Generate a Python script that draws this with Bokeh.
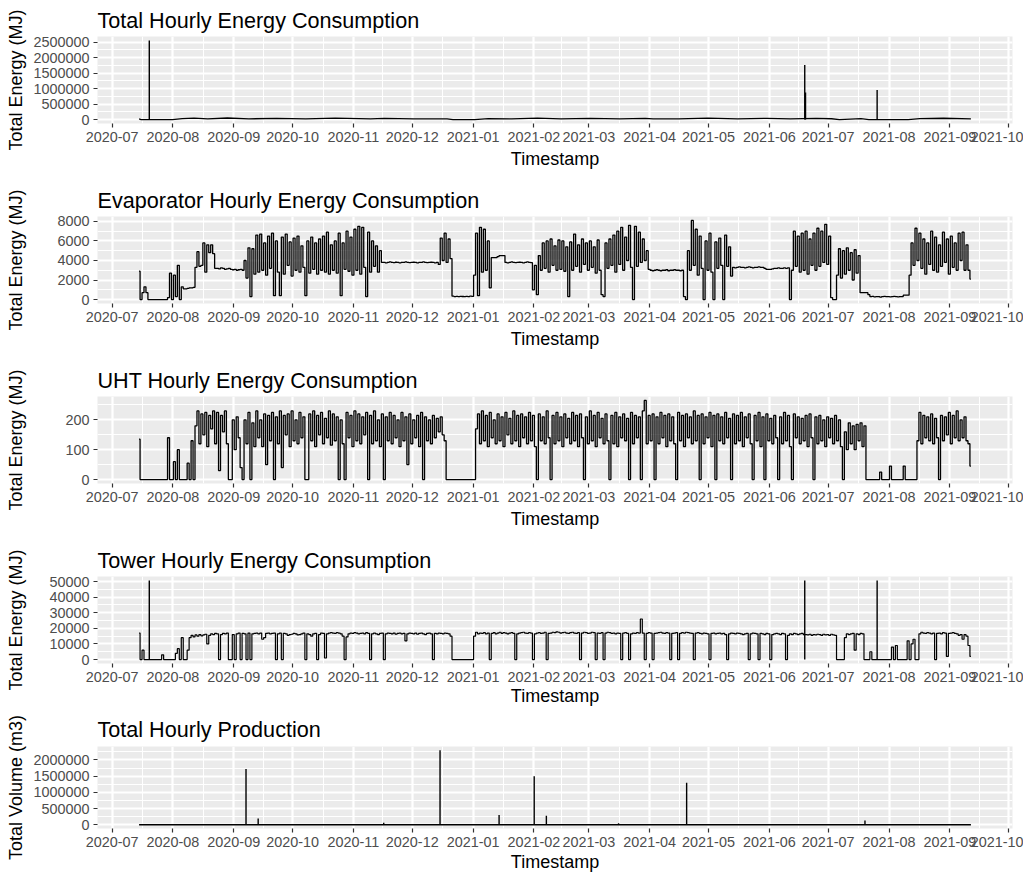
import numpy as np
import pandas as pd
from bokeh.plotting import figure
from bokeh.layouts import column
from bokeh.models import (FixedTicker, DatetimeTickFormatter, NumeralTickFormatter, Range1d)
from bokeh.embed import file_html
from bokeh.resources import INLINE

# ---------------- data ----------------
series_start = "2020-07-14 18:00"   # first hourly record; one value per day below

evap_values = [
    2900, 0, 700, 1300, 700, 0, 0, 0, 0, 0,
    0, 0, 0, 0, 0, 200, 2700, 0, 2500, 300,
    3500, 0, 1300, 1100, 1100, 1150, 1200, 1200, 1250, 3300,
    4900, 3400, 3500, 5800, 2800, 5600, 4800, 5600, 4700, 3200,
    3200, 3150, 3250, 3200, 3100, 3150, 3200, 3100, 3050, 3100,
    3000, 3050, 3100, 3000, 4000, 2200, 5300, 300, 5200, 2600,
    6600, 2800, 6700, 3000, 5800, 2500, 6500, 3200, 6800, 400,
    6000, 2800, 400, 6400, 2600, 6700, 3500, 5900, 2400, 6300,
    3000, 6500, 2800, 5500, 3300, 400, 6000, 2700, 6400, 3100,
    5800, 2600, 6200, 3000, 6500, 2800, 6900, 2600, 5600, 3000,
    6000, 2700, 6800, 400, 5800, 3100, 7000, 2900, 6400, 2500,
    7200, 3000, 7500, 2600, 7400, 3300, 300, 6900, 2800, 6000,
    3400, 5500, 2800, 5000, 3800, 3800, 3750, 3800, 3850, 3800,
    3780, 3820, 3800, 3750, 3800, 3800, 3850, 3800, 3780, 3800,
    3820, 3800, 3750, 3800, 3800, 3850, 3800, 3780, 3800, 3820,
    3800, 3750, 3800, 3600, 6300, 4000, 6800, 3800, 6200, 4200,
    350, 300, 320, 300, 330, 310, 300, 320, 300, 350,
    320, 2500, 6800, 400, 7400, 2800, 7200, 3000, 6000, 1200,
    4300, 4300, 4300, 4400, 4500, 4500, 4500, 3800, 3750, 3800,
    3850, 3800, 3780, 3800, 3820, 3800, 3750, 3800, 3850, 3800,
    3780, 1000, 3500, 500, 4500, 3000, 5800, 3200, 6000, 2800,
    6200, 3500, 5500, 3000, 6100, 3100, 6000, 2900, 5400, 300,
    5900, 3000, 6700, 3400, 5600, 2800, 6200, 3600, 5800, 3000,
    6000, 3300, 5400, 2700, 6100, 3000, 500, 300, 5800, 3200,
    6200, 3500, 6600, 2800, 7000, 3600, 7400, 3000, 6400, 4000,
    7600, 3300, 0, 7500, 3400, 6900, 3800, 6200, 4000, 5000,
    3100, 3000, 2950, 3000, 3050, 3000, 2950, 3000, 3000, 3050,
    2950, 3000, 3000, 3050, 3000, 3000, 2950, 3000, 300, 0,
    5000, 3000, 8100, 3500, 7200, 2500, 6500, 3200, 0, 6000,
    3000, 6800, 2800, 0, 5900, 3200, 6300, 3500, 0, 6600,
    3400, 5400, 2400, 3300, 3250, 3300, 3350, 3300, 3300, 3250,
    3300, 3350, 3300, 3250, 3300, 3300, 3350, 3300, 3300, 3200,
    3100, 3100, 3100, 3150, 3200, 3200, 3250, 3200, 3200, 3250,
    3200, 3250, 0, 3000, 7000, 3400, 6500, 2800, 6800, 3000,
    7000, 2600, 6200, 3500, 6800, 3000, 7300, 3400, 7000, 3800,
    7700, 3600, 6500, 200, 0, 0, 2500, 5200, 2200, 5000,
    2600, 5300, 3000, 4800, 2000, 5100, 2700, 4500, 700, 700,
    700, 700, 500, 300, 320, 280, 300, 300, 250, 300,
    320, 300, 300, 280, 300, 320, 300, 280, 300, 300,
    450, 450, 450, 2500, 5800, 3500, 7300, 4000, 6800, 3200,
    6200, 2600, 5800, 3600, 7000, 3000, 6400, 2800, 5600, 3400,
    6900, 3800, 6200, 2600, 6500, 3300, 5800, 3000, 6800, 4000,
    6900, 3000, 5600, 3000, 2100,
]

uht_values = [
    135, 0, 0, 0, 0, 0, 0, 0, 0, 0,
    0, 0, 0, 0, 0, 140, 0, 0, 60, 0,
    100, 0, 0, 0, 0, 55, 0, 130, 0, 180,
    230, 120, 220, 150, 225, 110, 215, 170, 230, 120,
    225, 30, 215, 160, 230, 120, 0, 0, 200, 100,
    210, 140, 40, 0, 200, 120, 225, 0, 190, 110,
    230, 140, 200, 110, 220, 50, 215, 130, 225, 0,
    210, 120, 230, 40, 215, 150, 220, 110, 230, 130,
    200, 120, 225, 140, 210, 0, 0, 220, 130, 230,
    110, 215, 150, 225, 120, 205, 140, 230, 115, 220,
    130, 210, 0, 200, 120, 0, 225, 140, 215, 110,
    230, 130, 220, 120, 210, 150, 225, 0, 215, 120,
    230, 130, 200, 110, 220, 0, 210, 130, 225, 120,
    215, 140, 200, 110, 225, 130, 210, 50, 220, 120,
    200, 140, 215, 110, 225, 0, 210, 130, 200, 120,
    215, 140, 205, 160, 210, 150, 130, 0, 0, 0,
    0, 0, 0, 0, 0, 0, 0, 0, 0, 0,
    0, 0, 170, 220, 120, 230, 130, 215, 110, 225,
    140, 200, 120, 220, 130, 210, 110, 225, 150, 205,
    120, 230, 130, 215, 110, 220, 140, 210, 120, 225,
    130, 215, 110, 0, 220, 130, 210, 120, 230, 140,
    0, 215, 120, 225, 130, 210, 110, 220, 140, 205,
    120, 225, 130, 215, 110, 220, 140, 0, 210, 120,
    230, 130, 215, 110, 225, 140, 205, 120, 220, 130,
    0, 215, 120, 225, 110, 210, 140, 220, 130, 205,
    0, 225, 120, 215, 140, 210, 0, 230, 265, 120,
    215, 130, 220, 0, 210, 120, 225, 140, 215, 110,
    220, 130, 210, 120, 0, 225, 130, 215, 110, 220,
    140, 210, 120, 230, 130, 215, 0, 220, 120, 210,
    140, 225, 110, 215, 0, 220, 130, 210, 120, 225,
    140, 205, 0, 220, 120, 215, 130, 225, 110, 210,
    140, 220, 120, 0, 215, 130, 225, 110, 210, 0,
    220, 130, 205, 120, 215, 140, 0, 210, 120, 225,
    130, 215, 110, 0, 220, 140, 210, 120, 205, 130,
    215, 110, 220, 140, 0, 210, 120, 215, 130, 200,
    110, 210, 140, 205, 120, 215, 130, 200, 110, 0,
    160, 100, 190, 120, 180, 100, 185, 130, 190, 110,
    180, 0, 0, 0, 0, 0, 0, 0, 25, 0,
    0, 0, 0, 45, 0, 0, 0, 0, 0, 0,
    45, 0, 0, 0, 0, 0, 0, 130, 225, 120,
    215, 140, 210, 130, 220, 120, 205, 140, 0, 215,
    130, 210, 150, 225, 120, 215, 140, 230, 130, 200,
    140, 210, 130, 120, 45,
]

tower_values = [
    17000, 0, 6000, 0, 0, 0, 0, 0, 0, 0,
    0, 0, 3000, 0, 0, 0, 0, 0, 0, 4000,
    7000, 0, 14000, 0, 0, 6000, 14000, 15500, 14500, 15800,
    15000, 16000, 15200, 15800, 16200, 10000, 15500, 16500, 16000, 16800,
    16500, 0, 16000, 16800, 16500, 17000, 0, 0, 16000, 0,
    16500, 17000, 0, 16800, 16500, 0, 17000, 0, 16500, 16800,
    17000, 16500, 17000, 13000, 14000, 16800, 17000, 16500, 16800, 17000,
    0, 16500, 17000, 0, 16800, 16500, 15500, 16000, 16200, 16800,
    16500, 15800, 16000, 16500, 17000, 0, 16500, 16000, 15000, 16500,
    16800, 0, 16000, 17000, 16800, 1000, 16500, 17000, 17200, 17000,
    16800, 17200, 17000, 16500, 15000, 0, 14500, 16500, 17000, 16800,
    17200, 17000, 16500, 16800, 17000, 16500, 17200, 16800, 0, 16500,
    17000, 16500, 16000, 16800, 17000, 0, 16500, 17000, 16800, 16500,
    17000, 16200, 16800, 17000, 16500, 16800, 12000, 16500, 17000, 16800,
    16500, 17000, 16200, 16800, 17000, 16500, 16000, 16800, 17000, 16500,
    0, 16800, 16500, 17000, 16800, 16500, 17000, 16800, 16500, 15000,
    0, 0, 0, 0, 0, 0, 0, 0, 0, 0,
    0, 15000, 17500, 16500, 17000, 16800, 17200, 16500, 17000, 0,
    16800, 17200, 16500, 17000, 17500, 16800, 17200, 17000, 16500, 17000,
    17200, 16800, 0, 16500, 17000, 17200, 17500, 17000, 16800, 17200,
    17000, 0, 16500, 17000, 17200, 16800, 17000, 17500, 0, 16800,
    17000, 17500, 17200, 17800, 17500, 17000, 17200, 17500, 17000, 16800,
    17200, 17500, 17000, 16800, 17200, 0, 17000, 17500, 17200, 16800,
    17000, 17500, 17200, 0, 17000, 16800, 17200, 0, 17000, 17500,
    17200, 16800, 17000, 16500, 17000, 16800, 0, 17000, 17200, 16800,
    0, 16500, 17000, 16800, 17200, 17000, 26000, 17000, 0, 16800,
    17200, 17000, 0, 16800, 17000, 17200, 17500, 17000, 16800, 17200,
    17000, 0, 16800, 17000, 17200, 0, 16800, 17200, 17000, 17500,
    17200, 17000, 16800, 0, 17000, 17200, 16800, 16500, 17000, 16800,
    16500, 0, 16800, 17000, 16500, 16800, 17000, 16500, 16800, 16000,
    0, 16500, 17000, 16800, 16500, 17000, 16800, 16500, 16000, 16500,
    16800, 0, 16500, 17000, 16800, 16500, 0, 16800, 16500, 16000,
    16800, 16500, 0, 16000, 16500, 16800, 16500, 16000, 16800, 16500,
    0, 15500, 16500, 16000, 16800, 16500, 16000, 16500, 16800, 16000,
    16000, 15800, 16200, 15500, 16000, 15800, 16200, 16000, 15500, 16200,
    15800, 16000, 15500, 16200, 15800, 15500, 0, 0, 0, 0,
    14000, 16500, 16000, 16500, 16800, 6000, 16500, 16000, 16800, 16500,
    0, 0, 0, 5000, 0, 0, 0, 0, 0, 0,
    0, 0, 0, 0, 8000, 0, 9000, 0, 0, 0,
    0, 0, 12000, 0, 10000, 13000, 0, 0, 16500, 17500,
    17000, 16800, 17200, 17000, 16500, 17000, 0, 16800, 17000, 16500,
    17200, 17000, 2000, 16800, 17000, 17200, 16800, 16500, 15500, 16000,
    13000, 16000, 15000, 9000, 2000,
]
tower_peak_days = [5.2, 339.3, 376.2]
tower_peak_values = [50700, 50700, 50700]

total_days = [0, 1, 17, 22, 28, 35, 45, 56, 70, 85,
              100, 118, 125, 140, 152, 157, 160, 171, 178, 190,
              203, 215, 230, 245, 258, 262, 275, 290, 305, 320,
              332, 345, 353, 357, 368, 372, 392, 398, 410, 424]
total_values = [25000, 1000, 1000, 30000, 45000, 25000, 50000, 22000, 40000, 25000,
                45000, 22000, 38000, 24000, 22000, 21000, 400, 400, 30000, 24000,
                45000, 25000, 40000, 24000, 35000, 22000, 20000, 45000, 25000, 38000,
                24000, 40000, 26000, 400, 30000, 600, 600, 30000, 42000, 20000]
total_peak_days = [5.2, 339.3, 339.7, 376.2]
total_peak_values = [2550000, 1760000, 870000, 950000]

prod_days = [0, 424]
prod_values = [0, 0]
prod_peak_days = [54.5, 60.7, 124.7, 153.4, 183.5, 201.4, 207.6, 244.4, 279.1, 370.0]
prod_peak_values = [1720000, 190000, 60000, 2300000, 300000, 1500000, 280000, 50000, 1300000, 130000]

month_ticks = ["2020-07-01", "2020-08-01", "2020-09-01", "2020-10-01", "2020-11-01",
               "2020-12-01", "2021-01-01", "2021-02-01", "2021-03-01", "2021-04-01",
               "2021-05-01", "2021-06-01", "2021-07-01", "2021-08-01", "2021-09-01",
               "2021-10-01"]

total_yticks = [0, 500000, 1000000, 1500000, 2000000, 2500000]
evap_yticks = [0, 2000, 4000, 6000, 8000]
uht_yticks = [0, 100, 200]
tower_yticks = [0, 10000, 20000, 30000, 40000, 50000]
prod_yticks = [0, 500000, 1000000, 1500000, 2000000]

# ---------------- helpers ----------------
FONT = "Liberation Sans"
DAY_MS = 86400000.0
start_ms = pd.Timestamp(series_start).value / 1e6


def to_ms(days):
    return start_ms + np.asarray(days, dtype=float) * DAY_MS


daily = np.arange(len(evap_values))
x_lo, x_hi = start_ms, start_ms + 424 * DAY_MS
x_pad = 0.05 * (x_hi - x_lo)
XR = (x_lo - x_pad, x_hi + x_pad)

major_ms = [pd.Timestamp(t).value / 1e6 for t in month_ticks]
minor_ms = [(a + b) / 2 for a, b in zip(major_ms[:-1], major_ms[1:])]

fmt = "%Y-%m"
dt_fmt = DatetimeTickFormatter(microseconds=fmt, milliseconds=fmt, seconds=fmt, minsec=fmt,
                               minutes=fmt, hourmin=fmt, hours=fmt, days=fmt, months=fmt,
                               years=fmt)


def make_panel(title, ylabel, yticks, ydata, height, top, bottom, title_standoff=8,
               xlabel_standoff=4):
    lo, hi = min(ydata), max(ydata)
    pad = 0.05 * (hi - lo)
    y0, y1 = lo - pad, hi + pad
    p = figure(width=1023, height=height, x_axis_type="datetime",
               x_range=Range1d(*XR), y_range=Range1d(y0, y1),
               output_backend="svg", toolbar_location=None,
               min_border_left=97, min_border_right=11,
               min_border_top=top, min_border_bottom=bottom)
    p.outline_line_color = None
    p.background_fill_color = "#EBEBEB"
    p.border_fill_color = "white"

    p.title.text = title
    p.title.text_font = FONT
    p.title.text_font_size = "21.6px"
    p.title.text_font_style = "normal"
    p.title.text_color = "black"
    p.title.align = "left"
    p.title.standoff = title_standoff

    xt = FixedTicker(ticks=major_ms, minor_ticks=minor_ms)
    step = yticks[1] - yticks[0]
    ymin = [t + step / 2 for t in [yticks[0] - step] + yticks]
    ymin = [t for t in ymin if y0 <= t <= y1]
    yt = FixedTicker(ticks=yticks, minor_ticks=ymin)

    p.xaxis.ticker = xt
    p.xgrid.ticker = xt
    p.xaxis.formatter = dt_fmt
    p.yaxis.ticker = yt
    p.ygrid.ticker = yt
    p.yaxis.formatter = NumeralTickFormatter(format="0")

    for g in (p.xgrid, p.ygrid):
        g.grid_line_color = "white"
        g.grid_line_width = 2.2
        g.minor_grid_line_color = "white"
        g.minor_grid_line_width = 1.1

    for ax in (p.xaxis, p.yaxis):
        ax.axis_line_color = None
        ax.major_tick_line_color = "#333333"
        ax.major_tick_line_width = 1.2
        ax.major_tick_out = 4
        ax.major_tick_in = 0
        ax.minor_tick_line_color = None
        ax.major_label_text_font = FONT
        ax.major_label_text_font_size = "14.4px"
        ax.major_label_text_color = "#4D4D4D"
        ax.major_label_standoff = 4
        ax.axis_label_text_font = FONT
        ax.axis_label_text_font_size = "18px"
        ax.axis_label_text_font_style = "normal"
        ax.axis_label_text_color = "black"

    maxlen = max(len(str(t)) for t in yticks)
    p.yaxis.axis_label = ylabel
    p.yaxis.axis_label_standoff = int(round(88 - 8 - 8.0 * maxlen - 20))

    p.xaxis.axis_label = "Timestamp"
    p.xaxis.axis_label_standoff = xlabel_standoff
    return p


# Panel 1: total energy
p1 = make_panel("Total Hourly Energy Consumption", "Total Energy (MJ)", total_yticks,
                total_values + total_peak_values, 180, 36, 57)
p1.line(to_ms(total_days), total_values, line_color="black", line_width=1.3)
p1.segment(x0=to_ms(total_peak_days), y0=[0] * len(total_peak_days),
           x1=to_ms(total_peak_days), y1=total_peak_values, line_color="black", line_width=1.4)

# Panel 2: evaporator
p2 = make_panel("Evaporator Hourly Energy Consumption", "Total Energy (MJ)", evap_yticks,
                evap_values, 180, 36, 57)
p2.step(to_ms(daily), evap_values, mode="center", line_color="black", line_width=1.3)

# Panel 3: UHT
p3 = make_panel("UHT Hourly Energy Consumption", "Total Energy (MJ)", uht_yticks,
                uht_values, 180, 36, 57)
p3.step(to_ms(daily), uht_values, mode="center", line_color="black", line_width=1.3)

# Panel 4: tower
p4 = make_panel("Tower Hourly Energy Consumption", "Total Energy (MJ)", tower_yticks,
                tower_values + tower_peak_values, 169, 36, 46, xlabel_standoff=1)
p4.step(to_ms(daily), tower_values, mode="center", line_color="black", line_width=1.2)
p4.segment(x0=to_ms(tower_peak_days), y0=[0] * len(tower_peak_days),
           x1=to_ms(tower_peak_days), y1=tower_peak_values, line_color="black", line_width=1.4)

# Panel 5: production
p5 = make_panel("Total Hourly Production", "Total Volume (m3)", prod_yticks,
                prod_values + prod_peak_values, 165, 37, 46, title_standoff=10, xlabel_standoff=2)
p5.line(to_ms(prod_days), prod_values, line_color="black", line_width=1.4)
p5.segment(x0=to_ms(prod_peak_days), y0=[0] * len(prod_peak_days),
           x1=to_ms(prod_peak_days), y1=prod_peak_values, line_color="black", line_width=1.4)

layout = column(p1, p2, p3, p4, p5, spacing=0)
open("out.html", "w").write(file_html(layout, INLINE))
